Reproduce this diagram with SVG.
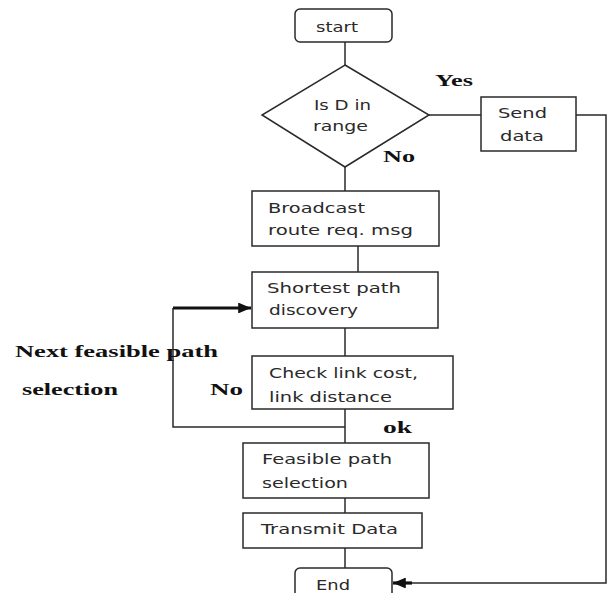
<svg xmlns="http://www.w3.org/2000/svg" width="608" height="593" viewBox="0 0 608 593">
<defs>
<style>
.box{fill:#fff;stroke:#2a2a2a;stroke-width:1.5}
.ln{fill:none;stroke:#2a2a2a;stroke-width:1.5}
.thick{fill:none;stroke:#111;stroke-width:3.2}
.t{font-family:"DejaVu Sans",sans-serif;font-size:13.5px;fill:#2a2a2a}
.b{font-family:"Liberation Serif",serif;font-size:17px;font-weight:bold;fill:#111}
</style>
<marker id="ah" viewBox="0 0 10 10" refX="10" refY="5" markerWidth="4" markerHeight="3.4" orient="auto" markerUnits="strokeWidth" preserveAspectRatio="none">
<path d="M0,0 L10,5 L0,10 z" fill="#111"/>
</marker>
</defs>
<rect width="608" height="593" fill="#fff"/>
<g id="connectors">
<line class="ln" x1="345" y1="42" x2="345" y2="65"/>
<line class="ln" x1="345" y1="167" x2="345" y2="191"/>
<line class="ln" x1="358" y1="246" x2="358" y2="272"/>
<line class="ln" x1="345" y1="328" x2="345" y2="356"/>
<line class="ln" x1="345" y1="409" x2="345" y2="443"/>
<polyline class="ln" points="345,427 173,427 173,308"/>
<line class="thick" x1="173" y1="308" x2="251" y2="308" marker-end="url(#ah)"/>
<line class="ln" x1="345" y1="498" x2="345" y2="513"/>
<line class="ln" x1="345" y1="548" x2="345" y2="568"/>
<line class="ln" x1="429" y1="115" x2="481" y2="115"/>
<polyline class="ln" points="576,115 606,115 606,583 410,583"/>
<line class="thick" x1="412" y1="583" x2="393" y2="583" marker-end="url(#ah)"/>
</g>
<g id="start">
<rect class="box" x="295" y="9" width="97" height="33" rx="5"/>
<text class="t" x="316" y="32" textLength="42" lengthAdjust="spacingAndGlyphs">start</text>
</g>
<g id="decision">
<polygon class="box" points="345,65 429,115 345,167 262,115"/>
<text class="t" x="314" y="110" textLength="57" lengthAdjust="spacingAndGlyphs">Is D in</text>
<text class="t" x="313" y="131" textLength="55" lengthAdjust="spacingAndGlyphs">range</text>
</g>
<g id="send">
<rect class="box" x="481" y="97" width="95" height="54"/>
<text class="t" x="498" y="118" textLength="49" lengthAdjust="spacingAndGlyphs">Send</text>
<text class="t" x="500" y="141" textLength="44" lengthAdjust="spacingAndGlyphs">data</text>
</g>
<g id="broadcast">
<rect class="box" x="252" y="191" width="187" height="55"/>
<text class="t" x="268" y="213" textLength="97" lengthAdjust="spacingAndGlyphs">Broadcast</text>
<text class="t" x="268" y="235" textLength="145" lengthAdjust="spacingAndGlyphs">route req.  msg</text>
</g>
<g id="shortest">
<rect class="box" x="252" y="272" width="186" height="56"/>
<text class="t" x="267" y="293" textLength="134" lengthAdjust="spacingAndGlyphs">Shortest path</text>
<text class="t" x="269" y="315" textLength="89" lengthAdjust="spacingAndGlyphs">discovery</text>
</g>
<g id="check">
<rect class="box" x="252" y="356" width="201" height="53"/>
<text class="t" x="269" y="378" textLength="149" lengthAdjust="spacingAndGlyphs">Check link cost,</text>
<text class="t" x="269" y="402" textLength="123" lengthAdjust="spacingAndGlyphs">link distance</text>
</g>
<g id="feasible">
<rect class="box" x="243" y="443" width="186" height="55"/>
<text class="t" x="262" y="464" textLength="130" lengthAdjust="spacingAndGlyphs">Feasible path</text>
<text class="t" x="262" y="488" textLength="86" lengthAdjust="spacingAndGlyphs">selection</text>
</g>
<g id="transmit">
<rect class="box" x="243" y="513" width="179" height="35"/>
<text class="t" x="261" y="534" textLength="137" lengthAdjust="spacingAndGlyphs">Transmit Data</text>
</g>
<g id="end">
<rect class="box" x="295" y="568" width="97" height="40" rx="5"/>
<text class="t" x="316" y="590" textLength="34" lengthAdjust="spacingAndGlyphs">End</text>
</g>
<g id="labels">
<text class="b" x="435" y="86" textLength="38" lengthAdjust="spacingAndGlyphs">Yes</text>
<text class="b" x="383" y="162" textLength="32" lengthAdjust="spacingAndGlyphs">No</text>
<text class="b" x="15" y="357" textLength="203" lengthAdjust="spacingAndGlyphs">Next feasible path</text>
<text class="b" x="22" y="395" textLength="96" lengthAdjust="spacingAndGlyphs">selection</text>
<text class="b" x="210" y="395" textLength="33" lengthAdjust="spacingAndGlyphs">No</text>
<text class="b" x="383" y="433" textLength="29" lengthAdjust="spacingAndGlyphs">ok</text>
</g>
</svg>
